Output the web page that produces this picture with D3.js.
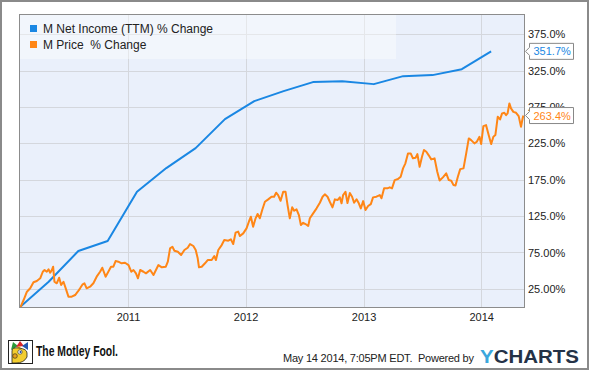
<!DOCTYPE html>
<html>
<head>
<meta charset="utf-8">
<script src="https://cdn.jsdelivr.net/npm/d3@7"></script>
<style>
  body { margin: 0; background: #fff; }
  text { font-family: "Liberation Sans", Arial, sans-serif; }
</style>
</head>
<body>
<svg id="chart" width="590" height="371"></svg>
<script>
// Net income (TTM), % change, one point per fiscal quarter
let incomeDates = ['2010-01-31', '2010-04-30', '2010-07-31', '2010-10-30', '2011-01-29', '2011-04-30',
  '2011-07-30', '2011-10-29', '2012-01-28', '2012-04-28', '2012-07-28', '2012-10-27', '2013-02-02',
  '2013-05-04', '2013-08-03', '2013-11-02', '2014-02-01']
let incomeValues = [0, 34.8, 77.0, 90.7, 158.5, 191.1, 218.6, 258.5, 283.2, 297.0, 309.4, 310.7, 306.6,
  317.6, 319.0, 327.2, 351.7]

// Price % change, positions given as decimal years
let priceTimes = [
  2010.087, 2010.113, 2010.141, 2010.169, 2010.197, 2010.225, 2010.254, 2010.276, 2010.291, 2010.310,
  2010.325, 2010.339, 2010.353, 2010.364, 2010.375, 2010.395, 2010.415, 2010.432, 2010.452, 2010.471,
  2010.494, 2010.522, 2010.551, 2010.573, 2010.593, 2010.615, 2010.630, 2010.649, 2010.678, 2010.706,
  2010.734, 2010.763, 2010.782, 2010.810, 2010.833, 2010.856, 2010.876, 2010.895, 2010.918, 2010.946,
  2010.975, 2011.005, 2011.028, 2011.047, 2011.068, 2011.085, 2011.104, 2011.132, 2011.153, 2011.189,
  2011.217, 2011.259, 2011.288, 2011.322, 2011.339, 2011.358, 2011.378, 2011.395, 2011.424, 2011.452,
  2011.480, 2011.508, 2011.528, 2011.556, 2011.576, 2011.593, 2011.604, 2011.627, 2011.655, 2011.678,
  2011.712, 2011.734, 2011.748, 2011.768, 2011.797, 2011.819, 2011.853, 2011.875, 2011.895, 2011.915,
  2011.937, 2011.952, 2011.980, 2012.008, 2012.028, 2012.045, 2012.064, 2012.085, 2012.102, 2012.121,
  2012.141, 2012.164, 2012.192, 2012.220, 2012.242, 2012.259, 2012.276, 2012.297, 2012.319, 2012.339,
  2012.356, 2012.375, 2012.395, 2012.412, 2012.432, 2012.452, 2012.469, 2012.488, 2012.508, 2012.531,
  2012.545, 2012.573, 2012.602, 2012.630, 2012.653, 2012.672, 2012.695, 2012.714, 2012.737, 2012.757,
  2012.780, 2012.799, 2012.814, 2012.827, 2012.847, 2012.864, 2012.884, 2012.903, 2012.920, 2012.941,
  2012.960, 2012.977, 2012.997, 2013.017, 2013.039, 2013.062, 2013.081, 2013.110, 2013.138, 2013.153,
  2013.175, 2013.203, 2013.223, 2013.242, 2013.265, 2013.293, 2013.316, 2013.336, 2013.356, 2013.378,
  2013.401, 2013.420, 2013.443, 2013.458, 2013.477, 2013.497, 2013.514, 2013.534, 2013.553, 2013.576,
  2013.604, 2013.627, 2013.647, 2013.675, 2013.703, 2013.725, 2013.746, 2013.765, 2013.782, 2013.802,
  2013.822, 2013.850, 2013.873, 2013.895, 2013.915, 2013.943, 2013.963, 2013.986, 2014.000, 2014.019,
  2014.042, 2014.064, 2014.085, 2014.104, 2014.121, 2014.141, 2014.161, 2014.178, 2014.197, 2014.212,
  2014.225, 2014.240, 2014.254, 2014.274, 2014.297, 2014.319, 2014.339, 2014.353, 2014.359]
let priceValues = [
  0, 9.6, 21.0, 25.7, 34.0, 35.7, 39.5, 48.5, 50.9, 48.5,
  51.8, 47.2, 50.9, 55.4, 34.8, 32.6, 40.3, 30.2, 34.8, 25.7,
  14.2, 14.2, 16.5, 21.0, 25.7, 31.2, 32.6, 25.7, 27.9, 32.6,
  41.7, 48.5, 54.0, 41.7, 48.5, 55.4, 55.4, 63.2, 62.3, 60.1,
  60.9, 57.7, 48.5, 50.9, 46.3, 39.5, 50.9, 48.5, 46.3, 50.9,
  44.0, 57.7, 54.6, 55.4, 62.3, 80.7, 82.9, 77.4, 76.0, 71.5,
  78.4, 81.5, 86.6, 83.9, 78.4, 67.0, 54.6, 55.4, 60.1, 64.6,
  64.6, 70.1, 64.6, 78.4, 85.2, 92.1, 91.2, 93.1, 86.6, 102.2,
  103.8, 97.6, 101.3, 108.2, 117.3, 124.2, 110.4, 122.0, 127.9, 122.0,
  133.4, 144.8, 148.1, 151.7, 151.7, 157.2, 154.0, 146.2, 158.5, 158.5,
  140.2, 122.0, 137.1, 132.4, 134.3, 126.5, 112.7, 115.9, 114.1, 111.4,
  122.0, 128.8, 135.7, 143.4, 151.7, 155.0, 151.7, 144.8, 137.1, 148.1,
  147.1, 150.8, 142.6, 154.0, 158.5, 143.0, 156.7, 151.7, 143.4, 148.1,
  142.6, 135.7, 145.7, 133.4, 138.9, 141.6, 150.8, 151.7, 154.0, 149.5,
  163.2, 163.2, 164.6, 163.2, 174.6, 176.0, 179.2, 190.7, 197.6, 211.3,
  211.3, 204.5, 205.3, 210.4, 192.9, 206.7, 215.9, 213.5, 209.0, 203.1,
  204.5, 186.0, 173.9, 178.3, 183.8, 174.6, 173.7, 167.7, 167.1, 179.2,
  189.7, 190.7, 211.3, 231.9, 229.6, 225.1, 227.3, 234.2, 224.1, 248.9,
  250.2, 236.5, 224.1, 234.2, 236.5, 261.7, 258.1, 266.3, 267.2, 264.0,
  266.3, 280.1, 273.2, 268.5, 267.2, 262.6, 247.9, 259.6, 263.4]

let seriesNames = ['M Net Income (TTM) % Change', 'M Price  % Change']
let yTicks = [25, 75, 125, 175, 225, 275, 325, 375]
let yTickLabels = ['25.00%', '75.00%', '125.0%', '175.0%', '225.0%', '275.0%', '325.0%', '375.0%']
let xTicks = ['2011-01-01', '2012-01-01', '2013-01-01', '2014-01-01']
let xTickLabels = ['2011', '2012', '2013', '2014']
let dateRange = ['2010-01-31', '2014-05-14']

let blue = '#1a87e3'
let orange = '#ff8616'
let colors = [blue, orange]

let parseDate = d3.timeParse('%Y-%m-%d')

// decimal year -> Date
function fromDecimalYear (t) {
  let yr = Math.floor(t)
  let start = new Date(yr, 0, 1)
  let end = new Date(yr + 1, 0, 1)
  return new Date(+start + (t - yr) * (end - start))
}

let incomeData = incomeDates.map((d, i) => ({ date: parseDate(d), value: incomeValues[i] }))
let priceData = priceTimes.map((t, i) => ({ date: fromDecimalYear(t), value: priceValues[i] }))

let plot = { left: 20, top: 15, right: 524, bottom: 307 }

let x = d3.scaleTime()
  .domain(dateRange.map(parseDate))
  .range([plot.left, plot.right])

let y = d3.scaleLinear()
  .domain([0, 401.7])
  .range([plot.bottom, plot.top])

let svg = d3.select('#chart')

// outer frame
svg.append('rect')
  .attr('x', 1).attr('y', 1)
  .attr('width', 587).attr('height', 368)
  .attr('fill', '#fff')
  .attr('stroke', '#8a8a8a')
  .attr('stroke-width', 2)

// plot background
svg.append('rect')
  .attr('x', plot.left).attr('y', plot.top)
  .attr('width', plot.right - plot.left).attr('height', plot.bottom - plot.top)
  .attr('fill', '#eaf0fb')

svg.append('clipPath').attr('id', 'clip')
  .append('rect')
  .attr('x', plot.left).attr('y', plot.top)
  .attr('width', plot.right - plot.left).attr('height', plot.bottom - plot.top)

// grid lines
svg.append('g')
  .selectAll('line')
  .data(yTicks)
  .enter().append('line')
  .attr('x1', plot.left).attr('x2', plot.right)
  .attr('y1', d => Math.round(y(d)) + 0.5)
  .attr('y2', d => Math.round(y(d)) + 0.5)
  .attr('stroke', '#d4d7dd')

svg.append('g')
  .selectAll('line')
  .data(xTicks)
  .enter().append('line')
  .attr('x1', d => Math.round(x(parseDate(d))) + 0.5)
  .attr('x2', d => Math.round(x(parseDate(d))) + 0.5)
  .attr('y1', plot.top).attr('y2', plot.bottom)
  .attr('stroke', '#d4d7dd')

// legend box (sits under the lines)
svg.append('rect')
  .attr('x', plot.left).attr('y', plot.top)
  .attr('width', 376).attr('height', 44)
  .attr('fill', '#fff')
  .attr('fill-opacity', 0.4)

let line = d3.line()
  .x(d => x(d.date))
  .y(d => y(d.value))

let lines = svg.append('g').attr('clip-path', 'url(#clip)')

lines.append('path')
  .datum(incomeData)
  .attr('d', line)
  .attr('fill', 'none')
  .attr('stroke', blue)
  .attr('stroke-width', 2)
  .attr('stroke-linejoin', 'round')

lines.append('path')
  .datum(priceData)
  .attr('d', line)
  .attr('fill', 'none')
  .attr('stroke', orange)
  .attr('stroke-width', 2)
  .attr('stroke-linejoin', 'round')

// plot border
svg.append('rect')
  .attr('x', plot.left - 0.5).attr('y', plot.top - 0.5)
  .attr('width', plot.right - plot.left + 1).attr('height', plot.bottom - plot.top + 1)
  .attr('fill', 'none')
  .attr('stroke', '#8c8c8c')

// legend entries
let legend = svg.append('g')
  .selectAll('g')
  .data(seriesNames)
  .enter().append('g')
  .attr('transform', (d, i) => 'translate(30,' + (25 + i * 16) + ')')

legend.append('rect')
  .attr('width', 7).attr('height', 7)
  .attr('fill', (d, i) => colors[i])

legend.append('text')
  .attr('x', 13).attr('y', 8)
  .attr('font-size', '12px')
  .attr('fill', '#222')
  .style('white-space', 'pre')
  .text(d => d)

// y axis labels on the right
let yAxis = d3.axisRight(y)
  .tickValues(yTicks)
  .tickSize(0)
  .tickPadding(4)
  .tickFormat((d, i) => yTickLabels[i])

svg.append('g')
  .attr('transform', 'translate(' + plot.right + ',0)')
  .call(yAxis)
  .call(g => g.select('.domain').remove())
  .selectAll('text')
  .attr('font-family', '"Liberation Sans", Arial, sans-serif')
  .attr('font-size', '11px')
  .attr('fill', '#222')

// x axis labels
let xAxis = d3.axisBottom(x)
  .tickValues(xTicks.map(parseDate))
  .tickSize(0)
  .tickPadding(6)
  .tickFormat((d, i) => xTickLabels[i])

svg.append('g')
  .attr('transform', 'translate(0,' + plot.bottom + ')')
  .call(xAxis)
  .call(g => g.select('.domain').remove())
  .selectAll('text')
  .attr('font-family', '"Liberation Sans", Arial, sans-serif')
  .attr('font-size', '11px')
  .attr('fill', '#222')

// last-value flags
let flags = [
  { value: incomeValues[incomeValues.length - 1], color: blue },
  { value: priceValues[priceValues.length - 1], color: orange }
]

let flag = svg.append('g')
  .selectAll('g')
  .data(flags)
  .enter().append('g')
  .attr('transform', d => 'translate(' + (plot.right + 1.5) + ',' + y(d.value) + ')')

flag.append('path')
  .attr('d', 'M0,0 L4,-4 L4,-8 L48,-8 L48,8 L4,8 L4,4 Z')
  .attr('fill', '#fff')
  .attr('stroke', '#888')

flag.append('text')
  .attr('x', 8).attr('y', 4)
  .attr('font-size', '11px')
  .attr('fill', d => d.color)
  .text(d => d.value.toFixed(1) + '%')

// footer: Motley Fool mark
let fool = svg.append('g').attr('transform', 'translate(8,340)')
fool.append('rect').attr('x', 0.5).attr('y', 0.5).attr('width', 24).attr('height', 23)
  .attr('fill', '#fff').attr('stroke', '#222')
fool.append('path').attr('d', 'M3,10 L5,2 L10,6 Z').attr('fill', '#2a9a3a')
fool.append('path').attr('d', 'M8,7 L12,1 L16,6 Z').attr('fill', '#d8262b')
fool.append('path').attr('d', 'M14,6 L20,2 L20,10 Z').attr('fill', '#2456b0')
fool.append('circle').attr('cx', 11).attr('cy', 8).attr('r', 1.6).attr('fill', '#f4c400')
fool.append('path').attr('d', 'M4,11 Q4,7 11,8 Q19,9 19,13 L19,17 Q16,23 8,23 L4,23 Z').attr('fill', '#f3cd2e').attr('stroke', '#222').attr('stroke-width', 0.8)
fool.append('circle').attr('cx', 12).attr('cy', 12).attr('r', 2.2).attr('fill', '#fff').attr('stroke', '#222').attr('stroke-width', 0.6)
fool.append('circle').attr('cx', 12.5).attr('cy', 12).attr('r', 1).attr('fill', '#1d3f9a')
fool.append('circle').attr('cx', 7).attr('cy', 16).attr('r', 2.3).attr('fill', '#e9a21a').attr('stroke', '#222').attr('stroke-width', 0.6)

svg.append('text')
  .attr('x', 36).attr('y', 356)
  .attr('font-size', '14px')
  .attr('font-weight', 'bold')
  .attr('fill', '#111')
  .attr('textLength', 82)
  .attr('lengthAdjust', 'spacingAndGlyphs')
  .text('The Motley Fool.')

svg.append('text')
  .attr('x', 283).attr('y', 362)
  .attr('font-size', '11px')
  .attr('fill', '#222')
  .attr('textLength', 191)
  .style('white-space', 'pre')
  .text('May 14 2014, 7:05PM EDT.  Powered by')

let ych = svg.append('text')
  .attr('x', 480).attr('y', 363)
  .attr('font-size', '19px')
  .attr('font-weight', 'bold')
  .attr('textLength', 99)
  .attr('lengthAdjust', 'spacingAndGlyphs')
ych.append('tspan').attr('fill', '#3ba7dd').text('Y')
ych.append('tspan').attr('fill', '#243247').text('CHARTS')
</script>
</body>
</html>
